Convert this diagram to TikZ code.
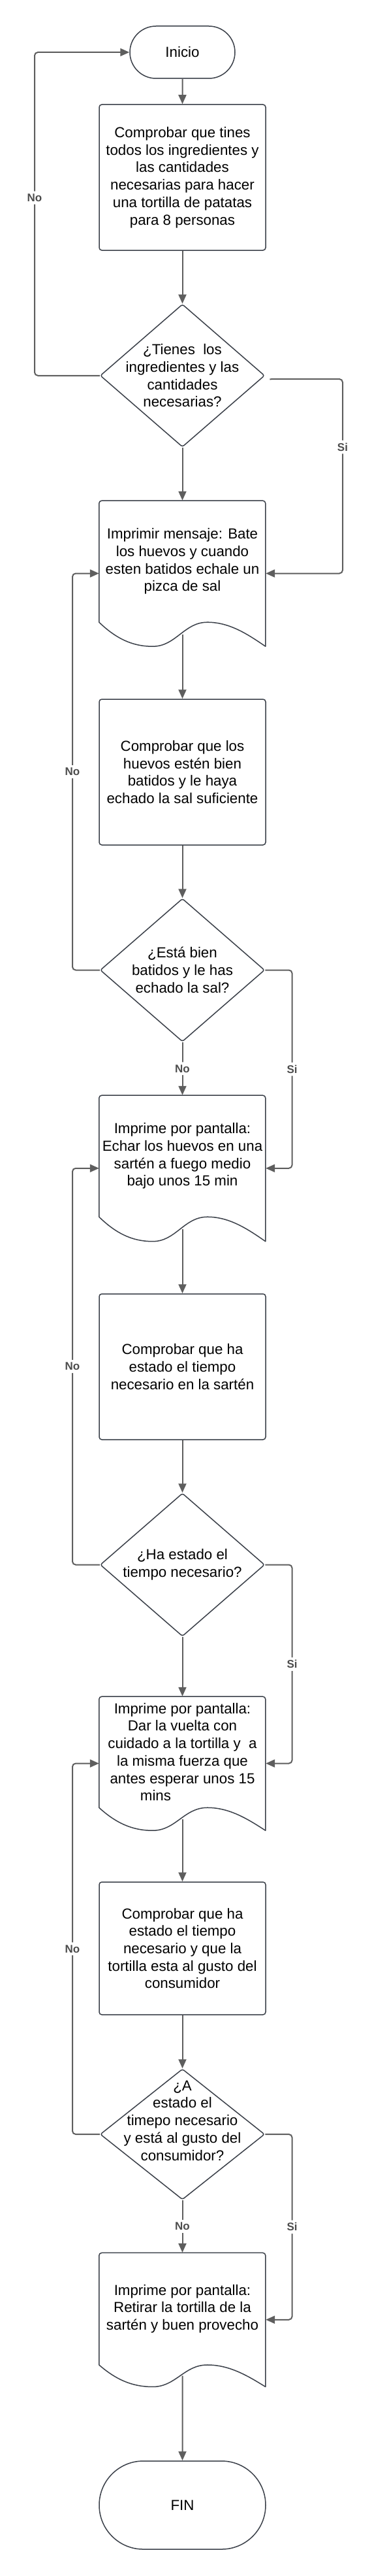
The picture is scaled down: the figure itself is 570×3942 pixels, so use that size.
\documentclass[tikz,border=0pt]{standalone}
\usepackage{fontspec}
\setmainfont{Liberation Sans}
\usetikzlibrary{shapes.geometric,shapes.misc,arrows.meta,calc}

\definecolor{outlineclr}{HTML}{3B4049}
\definecolor{flowclr}{HTML}{5E5E5E}
\definecolor{lblclr}{HTML}{4D4D4D}

\tikzset{
	txt/.style={font=\fontsize{22.3}{26.7}\selectfont, align=center},
	terminal/.style={rounded rectangle, draw=outlineclr, line width=1.5pt, inner sep=0pt, txt},
	proc/.style={rectangle, rounded corners=4pt, draw=outlineclr, line width=1.5pt, minimum width=255pt, inner sep=2pt, txt},
	doc/.style={rectangle, minimum width=255pt, inner sep=2pt, txt},
	decision/.style={diamond, draw=outlineclr, line width=1.5pt, rounded corners=3pt, minimum width=252pt, inner sep=0pt},
	qtext/.style={txt, inner sep=0pt},
	outline/.style={draw=outlineclr, line width=1.5pt, line join=round},
	flow/.style={draw=flowclr, line width=2pt, rounded corners=5pt, -{Triangle[length=14pt,width=12pt]}},
	lbl/.style={fill=white, text=lblclr, font=\fontsize{17}{20}\selectfont\bfseries, inner sep=4pt}
}

% document shape: name, height of the text part, depth of the wave
\newcommand{\docshape}[3]{%
	\draw[outline, shift={(#1.south west)}] (0,0) [rounded corners=4pt] -- (0,#2) -- (255,#2) [sharp corners] -- (255,-#3)
		.. controls (228,-0.5*#3) and (200,0) .. (166,0)
		.. controls (130,0) and (118,-#3) .. (82,-#3)
		.. controls (50,-#3) and (25,-0.65*#3) .. (0,0) -- cycle;}

\begin{document}
\begin{tikzpicture}[x=1pt, y=1pt]
	\useasboundingbox (0,0) rectangle (570,-3942);

	\node[terminal, minimum width=161pt, minimum height=80pt] (start) at (279.5,-80) {Inicio};
	\node[proc, minimum height=223pt] (b1) at (279.5,-271.5) {Comprobar que tines\\todos los ingredientes y\\las cantidades\\necesarias para hacer\\una tortilla de patatas\\para 8 personas};
	\node[decision, minimum height=218.5pt, label={[qtext]center:{¿Tienes~ los\\ingredientes y las\\cantidades\\necesarias?}}] (q1) at (279.5,-574.75) {};
	\node[doc, minimum height=186pt] (p1) at (279.5,-859) {Imprimir mensaje: Bate\\los huevos y cuando\\esten batidos echale un\\pizca de sal};
	\docshape{p1}{186}{37}
	\node[proc, minimum height=223pt] (b2) at (279.5,-1181.5) {Comprobar que los\\huevos estén bien\\batidos y le haya\\echado la sal suficiente};
	\node[decision, minimum height=219pt, label={[qtext]center:{¿Está bien\\batidos y le has\\echado la sal?}}] (q2) at (279.5,-1484.5) {};
	\node[doc, minimum height=186pt] (p2) at (279.5,-1769) {Imprime por pantalla:\\Echar los huevos en una\\sartén a fuego medio\\bajo unos 15 min};
	\docshape{p2}{186}{37.5}
	\node[proc, minimum height=223pt] (b3) at (279.5,-2091.5) {Comprobar que ha\\estado el tiempo\\necesario en la sartén};
	\node[decision, minimum height=219pt, label={[qtext]center:{¿Ha estado el\\tiempo necesario?}}] (q3) at (279.5,-2394.5) {};
	\node[doc, minimum height=170pt] (p3) at (279.5,-2681) {Imprime por pantalla:\\Dar la vuelta con\\cuidado a la tortilla y~ a\\la misma fuerza que\\antes esperar unos 15\\mins\hspace*{82pt}};
	\docshape{p3}{170}{35}
	\node[proc, minimum height=203pt] (b4) at (279.5,-2981.5) {Comprobar que ha\\estado el tiempo\\necesario y que la\\tortilla esta al gusto del\\consumidor};
	\node[decision, minimum height=200pt, label={[qtext, yshift=21pt]center:{¿A\\estado el\\timepo necesario\\y está al gusto del\\consumidor?}}] (q4) at (279.5,-3266) {};
	\node[doc, minimum height=171.5pt] (p4) at (279.5,-3533) {Imprime por pantalla:\\Retirar la tortilla de la\\sartén y buen provecho};
	\docshape{p4}{171.5}{33.5}
	\node[terminal, minimum width=255pt, minimum height=135pt] (fin) at (279.5,-3833.5) {FIN};

	% side points of the document shapes and loop lanes
	\coordinate (p1l) at ([yshift=-18.5pt]p1.west);
	\coordinate (p1r) at ([yshift=-18.5pt]p1.east);
	\coordinate (p2l) at ([yshift=-18.75pt]p2.west);
	\coordinate (p2r) at ([yshift=-18.75pt]p2.east);
	\coordinate (p3l) at ([yshift=-17.5pt]p3.west);
	\coordinate (p3r) at ([yshift=-17.5pt]p3.east);
	\coordinate (p4r) at ([yshift=-16.75pt]p4.east);
	\coordinate (n1) at (53,-80);
	\coordinate (s1) at ($(q1.east)+(7,-5.5)$);
	\coordinate (y1) at (525,-580);
	\coordinate (lft) at (111,0);
	\coordinate (rgt) at (447.6,0);

	% main line
	\draw[flow] (start) -- (b1);
	\draw[flow] (b1) -- (q1);
	\draw[flow] (q1) -- (p1);
	\draw[flow] ([yshift=-18.5pt]p1.south) -- (b2);
	\draw[flow] (b2) -- (q2);
	\draw[flow] (q2) -- node[lbl] {No} (p2);
	\draw[flow] ([yshift=-18.75pt]p2.south) -- (b3);
	\draw[flow] (b3) -- (q3);
	\draw[flow] (q3) -- (p3);
	\draw[flow] ([yshift=-17.5pt]p3.south) -- (b4);
	\draw[flow] (b4) -- (q4);
	\draw[flow] (q4) -- node[lbl] {No} (p4);
	\draw[flow] ([yshift=-16.75pt]p4.south) -- (fin);

	% loops back
	\draw[flow] (q1.west) -- (q1.west -| n1) -- node[lbl, pos=.55] {No} (n1) -- (start.west);
	\draw[flow] (q2.west) -- (q2.west -| lft) -- node[lbl] {No} (lft |- p1l) -- (p1l);
	\draw[flow] (q3.west) -- (q3.west -| lft) -- node[lbl] {No} (lft |- p2l) -- (p2l);
	\draw[flow] (q4.west) -- (q4.west -| lft) -- node[lbl] {No} (lft |- p3l) -- (p3l);

	% yes branches
	\draw[flow] (s1) -- (y1) -- node[lbl, pos=.35] {Si} (y1 |- p1r) -- (p1r);
	\draw[flow] (q2.east) -- (q2.east -| rgt) -- node[lbl] {Si} (rgt |- p2r) -- (p2r);
	\draw[flow] (q3.east) -- (q3.east -| rgt) -- node[lbl] {Si} (rgt |- p3r) -- (p3r);
	\draw[flow] (q4.east) -- (q4.east -| rgt) -- node[lbl] {Si} (rgt |- p4r) -- (p4r);
\end{tikzpicture}
\end{document}
